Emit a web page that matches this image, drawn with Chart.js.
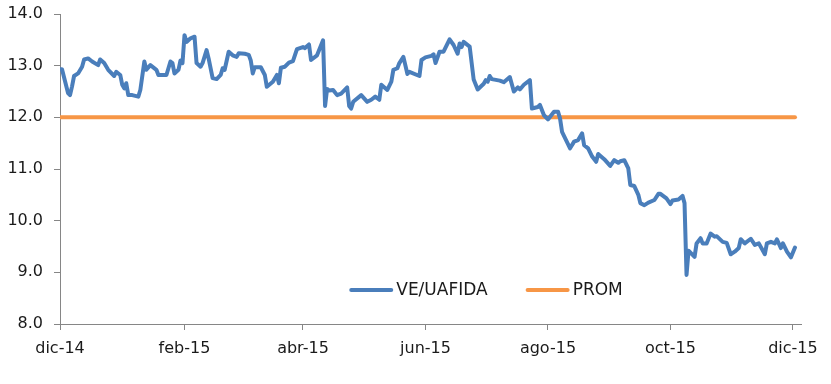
<!DOCTYPE html>
<html>
<head>
<meta charset="utf-8">
<script src="https://cdn.jsdelivr.net/npm/chart.js@4"></script>
<style>
  body { margin: 0; background: #fff; }
  #wrap { width: 831px; height: 384px; }
</style>
</head>
<body>
<div id="wrap"><canvas id="veChart" width="831" height="384"></canvas></div>
<script>
// days since 2014-12-01
const dayOffsets = [
  0, 1, 4, 5, 6, 7, 9, 11, 12, 14, 16, 19, 20, 22, 24, 27, 28, 30, 31, 32,
  33, 34, 36, 39, 40, 42, 43, 45, 48, 49, 53, 55, 56, 57, 59, 60, 61, 62, 63, 65,
  67, 68, 70, 71, 73, 74, 76, 78, 80, 81, 82, 84, 86, 88, 89, 92, 94, 95, 96, 97,
  100, 102, 103, 106, 108, 109, 110, 112, 114, 116, 118, 121, 122, 124, 125, 128, 131, 132, 133, 134,
  136, 138, 140, 143, 144, 145, 146, 150, 153, 155, 157, 159, 160, 163, 165, 166, 168, 169, 171, 173,
  174, 179, 180, 182, 185, 186, 187, 189, 191, 194, 196, 198, 199, 200, 201, 204, 206, 208, 211, 212,
  213, 214, 215, 219, 221, 224, 226, 228, 229, 231, 234, 235, 238, 239, 241, 243, 246, 248, 249, 250,
  252, 254, 256, 258, 260, 261, 263, 265, 267, 268, 271, 274, 276, 278, 279, 281, 283, 284, 286, 288,
  289, 291, 293, 296, 298, 299, 302, 304, 305, 308, 310, 311, 312, 313, 316, 317, 319, 320, 322, 324,
  326, 327, 330, 332, 334, 336, 338, 339, 341, 344, 346, 348, 351, 352, 354, 356, 357, 359, 360, 362,
  364, 366
];
const veUafida = [
  12.93, 12.93, 12.47, 12.43, 12.60, 12.80, 12.85, 12.98, 13.12, 13.14, 13.08, 13.01, 13.12, 13.05, 12.92, 12.80, 12.88, 12.82, 12.63, 12.56,
  12.66, 12.43, 12.43, 12.40, 12.53, 13.08, 12.92, 13.01, 12.92, 12.82, 12.82, 13.08, 13.05, 12.85, 12.92, 13.10, 13.05, 13.59, 13.46, 13.53,
  13.56, 13.05, 12.98, 13.05, 13.30, 13.14, 12.76, 12.74, 12.82, 12.95, 12.92, 13.27, 13.20, 13.17, 13.24, 13.23, 13.21, 13.10, 12.85, 12.97,
  12.97, 12.82, 12.59, 12.69, 12.82, 12.66, 12.96, 12.98, 13.06, 13.09, 13.32, 13.36, 13.34, 13.41, 13.11, 13.20, 13.49, 12.22, 12.55, 12.52,
  12.53, 12.43, 12.46, 12.58, 12.22, 12.17, 12.30, 12.43, 12.30, 12.34, 12.40, 12.34, 12.63, 12.53, 12.69, 12.92, 12.95, 13.05, 13.17, 12.84,
  12.88, 12.80, 13.11, 13.16, 13.19, 13.22, 13.05, 13.27, 13.27, 13.51, 13.40, 13.23, 13.43, 13.36, 13.46, 13.37, 12.73, 12.54, 12.65, 12.72,
  12.69, 12.80, 12.74, 12.71, 12.68, 12.78, 12.50, 12.58, 12.54, 12.63, 12.72, 12.17, 12.20, 12.24, 12.04, 11.96, 12.11, 12.11, 11.98, 11.72,
  11.56, 11.40, 11.53, 11.56, 11.69, 11.46, 11.40, 11.24, 11.14, 11.29, 11.19, 11.06, 11.17, 11.12, 11.15, 11.17, 11.01, 10.69, 10.67, 10.50,
  10.34, 10.30, 10.35, 10.40, 10.52, 10.52, 10.43, 10.32, 10.39, 10.41, 10.48, 10.34, 8.95, 9.42, 9.30, 9.56, 9.66, 9.56, 9.56, 9.75,
  9.69, 9.70, 9.59, 9.57, 9.35, 9.40, 9.47, 9.64, 9.56, 9.65, 9.53, 9.56, 9.35, 9.56, 9.59, 9.56, 9.64, 9.47, 9.56, 9.40,
  9.29, 9.48
];
const prom = 12.0;
const tickDates = ['2014-12-01', '2015-02-01', '2015-04-01', '2015-06-01', '2015-08-01', '2015-10-01', '2015-12-01'];
const tickLabels = ['dic-14', 'feb-15', 'abr-15', 'jun-15', 'ago-15', 'oct-15', 'dic-15'];
const seriesNames = ['VE/UAFIDA', 'PROM'];

const baseTime = Date.parse(tickDates[0]);
const tickDays = tickDates.map(d => Math.round((Date.parse(d) - baseTime) / 86400000));

const blue = '#4a7ebb';
const orange = '#f79646';
const axisGray = '#868686';
const fontFamily = '"DejaVu Sans", Verdana, sans-serif';

// legend drawn inside the plot, as in the original
const innerLegend = {
    id: 'innerLegend',
    afterDatasetsDraw(chart) {
        const ctx = chart.ctx;
        const area = chart.chartArea;
        ctx.save();
        ctx.font = '17px ' + fontFamily;
        ctx.textBaseline = 'middle';
        const sample = 44, gap = 3, itemGap = 38;
        const items = chart.data.datasets.map(ds => ({
            label: ds.label, color: ds.borderColor, w: ctx.measureText(ds.label).width
        }));
        const total = items.reduce((s, it) => s + sample + gap + it.w, 0) + itemGap * (items.length - 1);
        let x = area.left + 426 - total / 2;
        const y = area.top + 276;
        items.forEach(it => {
            ctx.strokeStyle = it.color;
            ctx.lineWidth = 4;
            ctx.lineCap = 'round';
            ctx.beginPath();
            ctx.moveTo(x + 2, y);
            ctx.lineTo(x + sample - 2, y);
            ctx.stroke();
            ctx.fillStyle = '#1a1a1a';
            ctx.fillText(it.label, x + sample + gap, y + 1);
            x += sample + gap + it.w + itemGap;
        });
        ctx.restore();
    }
};

const ctx = document.getElementById('veChart').getContext('2d');
new Chart(ctx, {
    type: 'line',
    data: {
        datasets: [{
            label: seriesNames[0],
            data: dayOffsets.map((d, i) => ({ x: d, y: veUafida[i] })),
            borderColor: blue,
            borderWidth: 4,
            borderJoinStyle: 'round',
            borderCapStyle: 'round',
            pointRadius: 0,
            tension: 0
        }, {
            label: seriesNames[1],
            data: dayOffsets.map(d => ({ x: d, y: prom })),
            borderColor: orange,
            borderWidth: 4,
            borderCapStyle: 'round',
            pointRadius: 0,
            tension: 0
        }]
    },
    options: {
        responsive: false,
        animation: false,
        layout: { padding: { top: 14, right: 30, left: 0, bottom: 0 } },
        plugins: {
            legend: { display: false },
            tooltip: { enabled: false }
        },
        scales: {
            x: {
                type: 'linear',
                min: 0,
                max: 369,
                afterBuildTicks: scale => {
                    scale.ticks = tickDays.map(v => ({ value: v }));
                },
                afterFit: scale => { scale.height = 60; },
                border: { display: true, color: axisGray, width: 1 },
                grid: { drawOnChartArea: false, drawTicks: true, tickLength: 6, color: axisGray },
                ticks: {
                    autoSkip: false,
                    maxRotation: 0,
                    padding: 9,
                    color: '#1a1a1a',
                    font: { family: fontFamily, size: 16 },
                    callback: (v) => tickLabels[tickDays.indexOf(v)]
                }
            },
            y: {
                min: 8,
                max: 14,
                afterFit: scale => {
                    scale.width = 60;
                    scale.paddingTop = 0;
                    scale.paddingBottom = 0;
                },
                border: { display: true, color: axisGray, width: 1 },
                grid: { drawOnChartArea: false, drawTicks: true, tickLength: 6, color: axisGray },
                ticks: {
                    stepSize: 1,
                    padding: 11,
                    color: '#1a1a1a',
                    font: { family: fontFamily, size: 16 },
                    callback: v => v.toFixed(1)
                }
            }
        }
    },
    plugins: [innerLegend]
});
</script>
</body>
</html>
